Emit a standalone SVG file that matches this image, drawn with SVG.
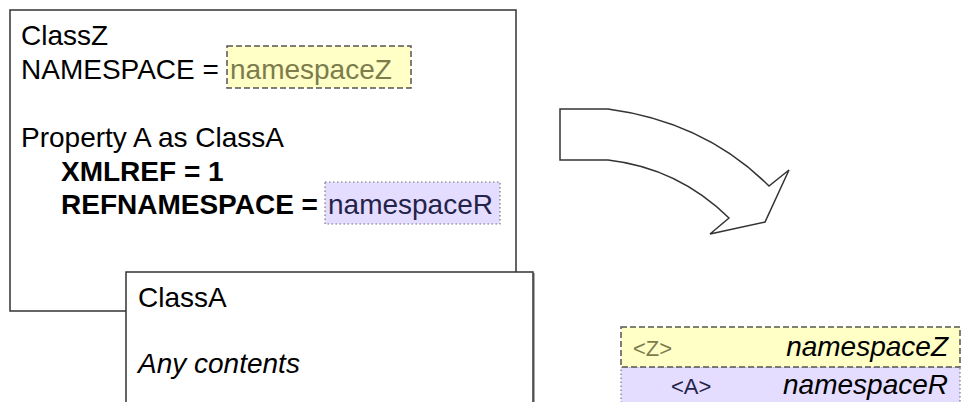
<svg xmlns="http://www.w3.org/2000/svg" width="964" height="402" viewBox="0 0 964 402">
<style>
text{font-family:"Liberation Sans",Arial,sans-serif;font-size:28px;fill:#000}
.b{font-weight:bold}
.i{font-style:italic}
.box{fill:#fff;stroke:#333;stroke-width:1.5}
.yel{fill:#ffffc6;stroke:#555;stroke-width:1.5;stroke-dasharray:6,3}
.pur{fill:#e4ddff;stroke:#777;stroke-width:1.2;stroke-dasharray:1.5,2.5}
.nz{fill:#7c7c4c}
.nr{fill:#24244a}
.sm{font-size:22px}
</style>
<g id="classZ">
<rect class="box" x="10" y="10" width="506" height="301"/>
<text x="21" y="45">ClassZ</text>
<text x="21" y="79">NAMESPACE =</text>
<rect class="yel" x="227" y="46" width="184" height="42"/>
<text class="nz" x="230" y="79">namespaceZ</text>
<text x="21" y="147">Property A as ClassA</text>
<text class="b" x="61" y="181">XMLREF = 1</text>
<text class="b" x="61" y="214">REFNAMESPACE =</text>
<rect class="pur" x="325" y="182" width="175" height="42"/>
<text class="nr" x="328" y="214">namespaceR</text>
</g>
<g id="classA">
<rect x="128" y="273" width="407" height="140" fill="#aaa"/>
<rect class="box" x="126" y="272" width="407" height="140"/>
<text x="138" y="307">ClassA</text>
<text class="i" x="138" y="373">Any contents</text>
</g>
<g id="connectors">
<path d="M560,109 L608,109 Q705,122 769,186 L789,170 L765,222 L710,234 L729,218 Q678,168 608,160 L560,160 Z" fill="#fff" stroke="#333" stroke-width="1.5" stroke-linejoin="miter"/>
</g>
<g id="legend">
<rect class="pur" x="621" y="367" width="339" height="45"/>
<rect class="yel" x="621" y="327" width="339" height="40"/>
<text class="sm nz" x="633" y="356">&lt;Z&gt;</text>
<text class="i" x="948" y="356" text-anchor="end">namespaceZ</text>
<text class="sm nr" x="671" y="394">&lt;A&gt;</text>
<text class="i" x="948" y="394" text-anchor="end">namespaceR</text>
</g>
</svg>
